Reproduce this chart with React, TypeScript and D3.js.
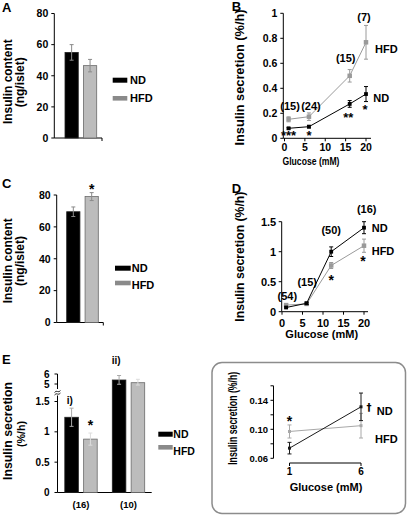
import React from "react";
import * as d3 from "d3";

// ---------- data ----------
const groups = ["ND", "HFD"];

// Panel A: insulin content (ng/islet)
const contentA = [55, 46.5];
const contentAErr = [5, 4];
// Panel C: insulin content (ng/islet)
const contentC = [69.5, 79];
const contentCErr = [3, 2.5];
const contentTicks = [0, 20, 40, 60, 80];

// Panel B: insulin secretion (%/h) vs glucose (mM)
const glucoseB = [1, 6, 16, 20];
const secB_ND = [0.08, 0.093, 0.275, 0.354];
const secB_NDErr = [0.006, 0.01, 0.027, 0.06];
const secB_HFD = [0.152, 0.173, 0.5, 0.768];
const secB_HFDErr = [0.02, 0.03, 0.05, 0.135];
const nB = ["(15)", "(24)", "(15)", "(7)"];
const starsB = ["***", "*", "**", "*"];
const ticksBy = [0, 0.2, 0.4, 0.6, 0.8, 1];
const ticksBx = [0, 5, 10, 15, 20];

// Panel D
const glucoseD = [1, 6, 12, 20];
const secD_ND = [0.07, 0.14, 1.0, 1.4];
const secD_NDErr = [0.01, 0.02, 0.08, 0.1];
const secD_HFD = [0.11, 0.13, 0.77, 1.1];
const secD_HFDErr = [0.02, 0.02, 0.05, 0.11];
const nD = ["(54)", "(15)", "(50)", "(16)"];
const ticksDy = [0, 0.5, 1, 1.5];
const ticksDx = [0, 5, 10, 15, 20];

// Panel E
const conditionsE = ["i)", "ii)"];
const secE_ND = [1.24, 5.4];
const secE_NDErr = [0.15, 0.45];
const secE_HFD = [0.88, 5.13];
const secE_HFDErr = [0.1, 0.34];
const nE = ["(16)", "(10)"];
const ticksE = [0, 0.5, 1, 1.5, 5, 6];

// Inset
const glucoseI = [1, 6];
const secI_ND = [0.074, 0.131];
const secI_NDErr = [0.008, 0.019];
const secI_HFD = [0.097, 0.105];
const secI_HFDErr = [0.009, 0.017];
const ticksIy = [0.06, 0.08, 0.1, 0.12, 0.14, 0.16];
const ticksIyLabels = ["0.06", "", "0.10", "", "0.14", ""];

// ---------- helpers ----------
const FONT = "'Liberation Sans', Arial, Helvetica, sans-serif";
const ND_COL = "#000";
const HFD_LINE = "#9a9a9a";
const HFD_BAR = "#bcbcbc";
const HFD_SWATCH = "#8a8a8a";
const ERR_BAR = "#8a8a8a";

function Txt(props: any) {
  return <text fontFamily={FONT} fontWeight="bold" fill="#000" {...props} />;
}

function ErrBar({ x, y0, y1, color, cap = 2 }: any) {
  return (
    <g stroke={color} strokeWidth={1}>
      <line x1={x} x2={x} y1={y0} y2={y1} />
      <line x1={x - cap} x2={x + cap} y1={y0} y2={y0} />
      <line x1={x - cap} x2={x + cap} y1={y1} y2={y1} />
    </g>
  );
}

function YAxis({ x, scale, ticks, labels, fontSize, tickLen = 3, gap = 3 }: any) {
  return (
    <g>
      <line x1={x} x2={x} y1={scale(ticks[0])} y2={scale(ticks[ticks.length - 1])} stroke="#000" />
      {ticks.map((t: number, i: number) => (
        <g key={i}>
          <line x1={x - tickLen} x2={x} y1={scale(t)} y2={scale(t)} stroke="#000" />
          {labels[i] ? (
            <Txt x={x - tickLen - gap} y={scale(t)} dy="0.36em" textAnchor="end" fontSize={fontSize}>
              {labels[i]}
            </Txt>
          ) : null}
        </g>
      ))}
    </g>
  );
}

function XAxis({ y, scale, ticks, x0, x1, fontSize, labelY, tickLen = 3 }: any) {
  return (
    <g>
      <line x1={x0} x2={x1} y1={y} y2={y} stroke="#000" />
      {ticks.map((t: number, i: number) => (
        <g key={i}>
          <line x1={scale(t)} x2={scale(t)} y1={y} y2={y + tickLen} stroke="#000" />
          <Txt x={scale(t)} y={labelY} textAnchor="middle" fontSize={fontSize}>
            {String(t)}
          </Txt>
        </g>
      ))}
    </g>
  );
}

function Series({ xs, ys, errs, xScale, yScale, color, size = 4 }: any) {
  const line = d3
    .line<number>()
    .x((_, i) => xScale(xs[i]))
    .y((d) => yScale(d));
  return (
    <g>
      <path d={line(ys) || ""} fill="none" stroke={color} strokeWidth={1} />
      {ys.map((v: number, i: number) => (
        <ErrBar key={i} x={xScale(xs[i])} y0={yScale(v + errs[i])} y1={yScale(v - errs[i])} color={color} />
      ))}
      {ys.map((v: number, i: number) => (
        <rect key={"m" + i} x={xScale(xs[i]) - size / 2} y={yScale(v) - size / 2} width={size} height={size} fill={color} />
      ))}
    </g>
  );
}

function VTitle({ x, y, children, fontSize, len }: any) {
  return (
    <Txt
      transform={`translate(${x},${y}) rotate(-90)`}
      textAnchor="middle"
      fontSize={fontSize}
      textLength={len}
      lengthAdjust="spacingAndGlyphs"
    >
      {children}
    </Txt>
  );
}

function ContentBars({ xScale, yScale, values, errs }: any) {
  return (
    <g>
      {groups.map((g, i) => (
        <rect
          key={g}
          x={xScale(g)}
          y={yScale(values[i])}
          width={xScale.bandwidth()}
          height={yScale(0) - yScale(values[i])}
          fill={i === 0 ? ND_COL : HFD_BAR}
          stroke={i === 0 ? "#222" : "#6a6a6a"}
          strokeWidth={0.8}
        />
      ))}
      {groups.map((g, i) => (
        <ErrBar
          key={"e" + g}
          x={(xScale(g) as number) + xScale.bandwidth() / 2}
          y0={yScale(values[i] + errs[i])}
          y1={yScale(values[i] - errs[i])}
          color={ERR_BAR}
        />
      ))}
    </g>
  );
}

function BarLegend({ x, yND, yHFD, tx, tyND, tyHFD, w, fontSize }: any) {
  return (
    <g>
      <rect x={x} y={yND} width={w} height={5} fill={ND_COL} />
      <rect x={x} y={yHFD} width={w} height={4.6} fill={HFD_SWATCH} />
      <Txt x={tx} y={tyND} fontSize={fontSize}>ND</Txt>
      <Txt x={tx} y={tyHFD} fontSize={fontSize}>HFD</Txt>
    </g>
  );
}

export default function App() {
  // scales
  const yA = d3.scaleLinear().domain([0, 80]).range([138, 13.5]);
  const xA = d3.scaleBand().domain(groups).range([65, 96.7]).paddingInner(0.28);
  const yC = d3.scaleLinear().domain([0, 80]).range([322.5, 195]);
  const xC = d3.scaleBand().domain(groups).range([66.7, 98.3]).paddingInner(0.28);

  const xB = d3.scaleLinear().domain([0, 20]).range([284.5, 366]);
  const yB = d3.scaleLinear().domain([0, 1]).range([138.3, 13.3]);

  const xD = d3.scaleLinear().domain([0, 20]).range([282, 364]);
  const yD = d3.scaleLinear().domain([0, 1.5]).range([311.7, 221.7]);

  const yE = d3.scaleLinear().domain([0, 1.5, 5, 6]).range([492.5, 401.5, 384, 374]);
  const xE = d3.scalePoint().domain(conditionsE).range([81, 128.5]);
  const xEin = d3.scaleBand().domain(groups).range([-16.2, 16.2]).paddingInner(0.28);

  const xI = d3.scaleLinear().domain([1, 6]).range([289.5, 361]);
  const yI = d3.scaleLinear().domain([0.06, 0.16]).range([458.3, 385.8]);

  return (
    <svg
      width={408}
      height={517}
      style={{ position: "absolute", left: 0, top: 0, background: "#fff" }}
    >
      <rect x={0} y={0} width={408} height={517} fill="#fff" />

      {/* ---------- Panel A ---------- */}
      <Txt x={2} y={12.3} fontSize={13}>A</Txt>
      <YAxis x={54.3} scale={yA} ticks={contentTicks} labels={contentTicks.map(String)} fontSize={10.5} />
      <line x1={54.3} x2={102} y1={yA(0)} y2={yA(0)} stroke="#000" />
      <line x1={102} x2={102} y1={yA(0)} y2={yA(0) + 3} stroke="#000" />
      <ContentBars xScale={xA} yScale={yA} values={contentA} errs={contentAErr} />
      <VTitle x={11.7} y={81.7} fontSize={12} len={84.7}>Insulin content</VTitle>
      <VTitle x={23.8} y={82.3} fontSize={12} len={50}>(ng/islet)</VTitle>
      <BarLegend x={112.7} yND={77.7} yHFD={96} w={14.6} tx={130} tyND={83.5} tyHFD={101.7} fontSize={11} />

      {/* ---------- Panel B ---------- */}
      <Txt x={231.7} y={10.5} fontSize={13}>B</Txt>
      <YAxis x={283.3} scale={yB} ticks={ticksBy} labels={ticksBy.map(String)} fontSize={10.5} />
      <XAxis y={yB(0)} scale={xB} ticks={ticksBx} x0={283.3} x1={371} fontSize={10.5} labelY={150.5} />
      <Series xs={glucoseB} ys={secB_HFD} errs={secB_HFDErr} xScale={xB} yScale={yB} color={HFD_LINE} size={4.5} />
      <Series xs={glucoseB} ys={secB_ND} errs={secB_NDErr} xScale={xB} yScale={yB} color={ND_COL} size={3.8} />
      <VTitle x={244} y={77.5} fontSize={12.5} len={136}>Insulin secretion (%/h)</VTitle>
      <Txt x={311} y={164.5} fontSize={10.5} textAnchor="middle" textLength={57} lengthAdjust="spacingAndGlyphs">
        Glucose (mM)
      </Txt>
      {[
        [xB(glucoseB[0]) + 1.5, 109.5],
        [xB(glucoseB[1]) + 2, 109.5],
        [xB(glucoseB[2]) - 4, 61.5],
        [xB(glucoseB[3]) - 2, 20.5],
      ].map(([x, y], i) => (
        <Txt key={"nb" + i} x={x} y={y} fontSize={11} textAnchor="middle">{nB[i]}</Txt>
      ))}
      {[
        [xB(glucoseB[0]), 140],
        [xB(glucoseB[1]), 140],
        [xB(glucoseB[2]) - 1.5, 121.5],
        [xB(glucoseB[3]) - 1, 114.2],
      ].map(([x, y], i) => (
        <Txt key={"sb" + i} x={x} y={y} fontSize={13} textAnchor="middle">{starsB[i]}</Txt>
      ))}
      <Txt x={375} y={53.3} fontSize={11}>HFD</Txt>
      <Txt x={373.3} y={101.7} fontSize={11}>ND</Txt>

      {/* ---------- Panel C ---------- */}
      <Txt x={2} y={188.3} fontSize={13}>C</Txt>
      <YAxis x={56.7} scale={yC} ticks={contentTicks} labels={contentTicks.map(String)} fontSize={10.5} />
      <line x1={56.7} x2={103.3} y1={yC(0)} y2={yC(0)} stroke="#000" />
      <line x1={103.3} x2={103.3} y1={yC(0)} y2={yC(0) + 3} stroke="#000" />
      <ContentBars xScale={xC} yScale={yC} values={contentC} errs={contentCErr} />
      <Txt x={(xC("HFD") as number) + xC.bandwidth() / 2} y={194} fontSize={14} textAnchor="middle">*</Txt>
      <VTitle x={11.7} y={260.8} fontSize={12} len={85}>Insulin content</VTitle>
      <VTitle x={23.8} y={261} fontSize={12} len={50}>(ng/islet)</VTitle>
      <BarLegend x={115} yND={265.7} yHFD={280.7} w={15.7} tx={131.7} tyND={271.5} tyHFD={289.3} fontSize={11} />

      {/* ---------- Panel D ---------- */}
      <Txt x={231.7} y={193.3} fontSize={13}>D</Txt>
      <YAxis x={281.7} scale={yD} ticks={ticksDy} labels={ticksDy.map(String)} fontSize={11} gap={2.5} />
      <XAxis y={yD(0)} scale={xD} ticks={ticksDx} x0={281.7} x1={368} fontSize={11} labelY={326.5} />
      <Series xs={glucoseD} ys={secD_HFD} errs={secD_HFDErr} xScale={xD} yScale={yD} color={HFD_LINE} size={4.5} />
      <Series xs={glucoseD} ys={secD_ND} errs={secD_NDErr} xScale={xD} yScale={yD} color={ND_COL} size={3.8} />
      <VTitle x={244} y={256.7} fontSize={12} len={130}>Insulin secretion (%/h)</VTitle>
      <Txt x={321.7} y={338} fontSize={11} textAnchor="middle">Glucose (mM)</Txt>
      {[
        [287.3, 299.5],
        [307.2, 285.5],
        [331.2, 234],
        [366.7, 212.5],
      ].map(([x, y], i) => (
        <Txt key={"nd" + i} x={x} y={y} fontSize={11} textAnchor="middle">{nD[i]}</Txt>
      ))}
      <Txt x={xD(glucoseD[2])} y={285.4} fontSize={14} textAnchor="middle">*</Txt>
      <Txt x={xD(glucoseD[3]) - 1} y={266.4} fontSize={14} textAnchor="middle">*</Txt>
      <Txt x={371.7} y={231.5} fontSize={11}>ND</Txt>
      <Txt x={371.7} y={255} fontSize={11}>HFD</Txt>

      {/* ---------- Panel E ---------- */}
      <Txt x={2} y={364} fontSize={13}>E</Txt>
      {/* y axis with break */}
      <line x1={57.5} x2={57.5} y1={yE(0)} y2={395.5} stroke="#000" />
      <line x1={57.5} x2={57.5} y1={389} y2={yE(6)} stroke="#000" />
      <path d="M54.5,392.5 q1.5,-2 3,-1 t3,-1 M54.5,395 q1.5,-2 3,-1 t3,-1" fill="none" stroke="#000" strokeWidth={0.8} />
      {ticksE.map((t, i) => (
        <g key={"te" + i}>
          <line x1={54.5} x2={57.5} y1={yE(t)} y2={yE(t)} stroke="#000" />
          <Txt x={49.5} y={yE(t)} dy="0.36em" textAnchor="end" fontSize={10}>{String(t)}</Txt>
        </g>
      ))}
      <line x1={57.5} x2={151.7} y1={yE(0)} y2={yE(0)} stroke="#000" />
      {conditionsE.map((c, ci) => (
        <g key={c}>
          {groups.map((g, gi) => {
            const v = gi === 0 ? secE_ND[ci] : secE_HFD[ci];
            const e = gi === 0 ? secE_NDErr[ci] : secE_HFDErr[ci];
            const x = (xE(c) as number) + (xEin(g) as number);
            return (
              <g key={g}>
                <rect
                  x={x}
                  y={yE(v)}
                  width={xEin.bandwidth()}
                  height={yE(0) - yE(v)}
                  fill={gi === 0 ? ND_COL : HFD_BAR}
                  stroke={gi === 0 ? "#222" : "#6a6a6a"}
                  strokeWidth={0.8}
                />
                <ErrBar x={x + xEin.bandwidth() / 2} y0={yE(v + e)} y1={yE(v - e)} color={gi === 0 ? "#aaa" : "#ddd"} />
              </g>
            );
          })}
          <Txt x={xE(c)} y={507.5} fontSize={9.5} textAnchor="middle">{nE[ci]}</Txt>
        </g>
      ))}
      <Txt x={66.7} y={404} fontSize={10}>{conditionsE[0]}</Txt>
      <Txt x={111.7} y={364} fontSize={10}>{conditionsE[1]}</Txt>
      <Txt x={(xE("i)") as number) + (xEin("HFD") as number) + xEin.bandwidth() / 2} y={429.8} fontSize={14} textAnchor="middle">*</Txt>
      <VTitle x={12} y={431} fontSize={12} len={98}>Insulin secretion</VTitle>
      <VTitle x={24.5} y={434} fontSize={11.5} len={26}>(%/h)</VTitle>
      <BarLegend x={158.3} yND={431.7} yHFD={445} w={14.4} tx={173.3} tyND={437.5} tyHFD={455} fontSize={10.5} />

      {/* ---------- Inset ---------- */}
      <rect x={212} y={362.5} width={193.5} height={151} rx={10} ry={10} fill="none" stroke="#8c8c8c" strokeWidth={1.5} />
      <YAxis x={273.5} scale={yI} ticks={ticksIy} labels={ticksIyLabels} fontSize={9.5} gap={2.5} />
      <line x1={xI(1)} x2={xI(6)} y1={463} y2={463} stroke="#000" />
      {glucoseI.map((g) => (
        <g key={"gi" + g}>
          <line x1={xI(g)} x2={xI(g)} y1={463} y2={466} stroke="#000" />
          <Txt x={xI(g)} y={474.5} fontSize={10} textAnchor="middle">{String(g)}</Txt>
        </g>
      ))}
      <Series xs={glucoseI} ys={secI_HFD} errs={secI_HFDErr} xScale={xI} yScale={yI} color="#a8a8a8" size={3} />
      <Series xs={glucoseI} ys={secI_ND} errs={secI_NDErr} xScale={xI} yScale={yI} color="#1a1a1a" size={3} />
      <VTitle x={236.5} y={418.3} fontSize={12} len={93}>Insulin secretion (%/h)</VTitle>
      <Txt x={326} y={491} fontSize={11} textAnchor="middle">Glucose (mM)</Txt>
      <Txt x={xI(1)} y={426.4} fontSize={14} textAnchor="middle">*</Txt>
      <text x={369} y={411} fontSize={10} fontWeight="bold" fontFamily="'DejaVu Sans', sans-serif" fill="#000" textAnchor="middle">†</text>
      <Txt x={376.7} y={415} fontSize={11}>ND</Txt>
      <Txt x={375} y={443.3} fontSize={11}>HFD</Txt>
    </svg>
  );
}
